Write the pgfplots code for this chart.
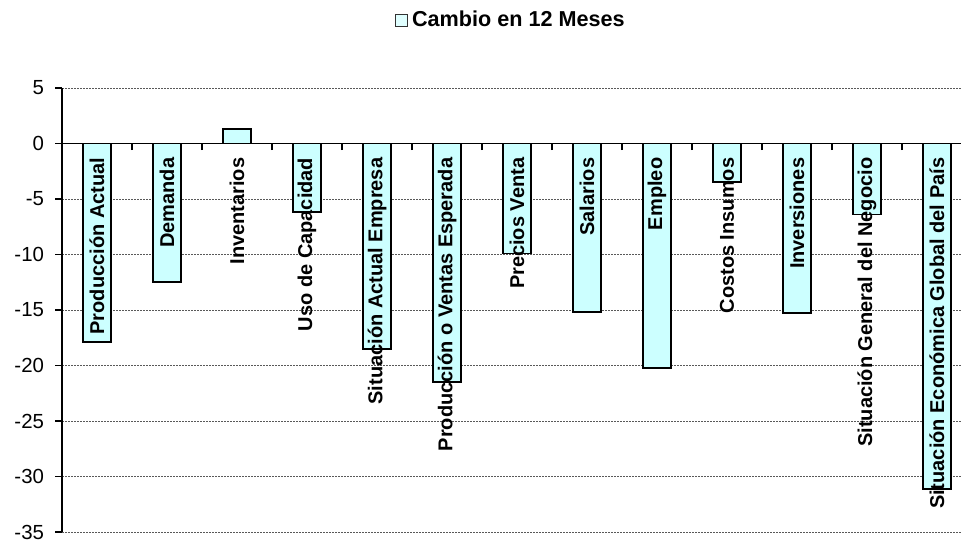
\documentclass[border=0pt]{standalone}
\usepackage{fontspec}
\setmainfont{Liberation Sans}
\usepackage{pgfplots}
\usepackage{pgfplotstable}
\pgfplotsset{compat=1.18}
\definecolor{barfill}{HTML}{CCFFFF}

\pgfplotstableread[col sep=comma]{
x,val,anchor,label
0,-17.9,0,Producción Actual
1,-12.5,0,Demanda
2,1.3,0,Inventarios
3,-6.2,0,Uso de Capacidad
4,-18.5,0,Situación Actual Empresa
5,-21.5,0,Producción o Ventas Esperada
6,-9.9,0,Precios Venta
7,-15.2,0,Salarios
8,-20.2,0,Empleo
9,-3.5,0,Costos Insumos
10,-15.3,0,Inversiones
11,-6.4,0,Situación General del Negocio
12,-31.1,0,Situación Económica Global del País
}\datatable

\begin{document}
\begin{tikzpicture}
\path[use as bounding box] (0,0) rectangle (720.75pt,408pt);
\begin{axis}[
  at={(46.5pt,9pt)}, anchor=south west,
  scale only axis, width=674.25pt, height=333pt,
  xmin=-0.5, xmax=12.343, ymin=-35, ymax=5,
  ytick={-35,-30,...,5},
  xtick={0.5,1.5,...,11.5}, xticklabels={},
  axis y line=left, axis x line=middle,
  axis line style={-, black, line width=0.8pt},
  tick align=outside,
  major tick length=5pt,
  tick style={black, line width=0.8pt},
  ymajorgrids,
  grid style={black!65, line width=0.5pt, dash pattern=on 1.5pt off 0.75pt},
  /pgf/number format/assume math mode=true,
  yticklabel style={font=\fontsize{15.3}{18}\selectfont, xshift=-5pt},
  legend style={at={(0.4994,1.153)}, anchor=center, draw=none, fill=none,
    font=\bfseries\fontsize{16.2}{19}\selectfont, inner sep=0pt},
  clip=false,
]
\addplot[ybar, bar width=21pt, fill=barfill, draw=black, line width=1.3pt,
  legend image code/.code={\draw[fill=barfill!60!white, draw=black!80, line width=0.6pt] (0pt,-4.5pt) rectangle (9pt,4.5pt);}]
  table[x=x, y=val]{\datatable};
\addlegendentry{\hspace{1.5pt}Cambio en 12 Meses}
\addplot[draw=none, mark=none, forget plot,
  nodes near coords={\rotatebox{90}{\pgfplotspointmeta}},
  point meta=explicit symbolic,
  every node near coord/.append style={font=\bfseries\fontsize{15}{18}\selectfont, inner sep=0pt,
    anchor=north, yshift=-10.5pt, text=black}]
  table[x=x, y=anchor, meta=label]{\datatable};
\end{axis}
\end{tikzpicture}
\end{document}
